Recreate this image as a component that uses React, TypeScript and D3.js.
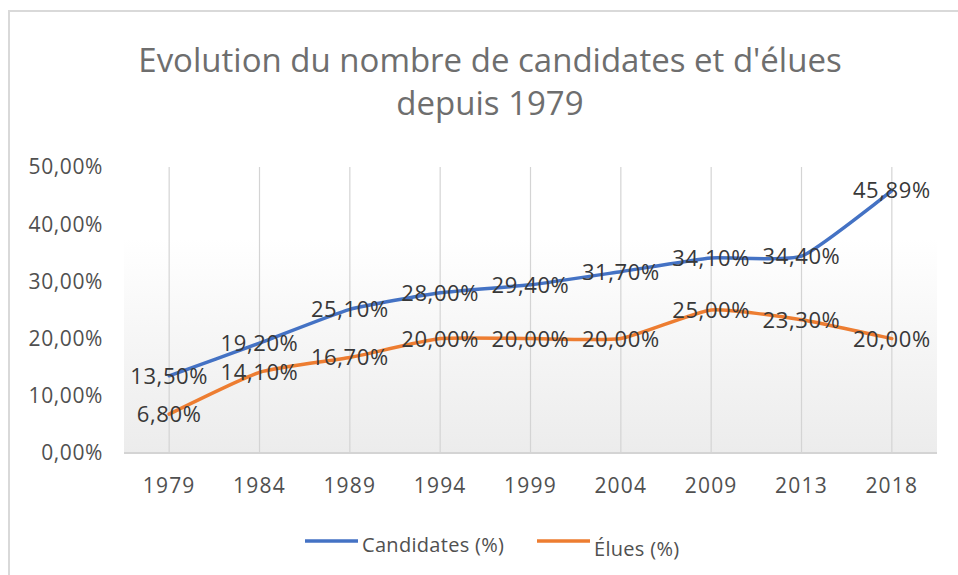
import { useEffect, useRef } from "react";
import * as d3 from "d3";

// Chart data
const years = ["1979", "1984", "1989", "1994", "1999", "2004", "2009", "2013", "2018"];
const candidates = [13.5, 19.2, 25.1, 28.0, 29.4, 31.7, 34.1, 34.4, 45.89];
const elues = [6.8, 14.1, 16.7, 20.0, 20.0, 20.0, 25.0, 23.3, 20.0];
const yTicks = [0, 10, 20, 30, 40, 50];
const titleLines = ["Evolution du nombre de candidates et d'élues", "depuis 1979"];
const seriesNames = ["Candidates (%)", "Élues (%)"];

const W = 958;
const H = 575;
const FONT = "Open Sans, sans-serif";
const BLUE = "#4472C4";
const ORANGE = "#ED7D31";

const fmt = (v: number) => v.toFixed(2).replace(".", ",") + "%";

export default function App() {
  const ref = useRef<SVGSVGElement | null>(null);

  useEffect(() => {
    const svg = d3.select(ref.current);
    svg.selectAll("*").remove();

    // Plot area bounds
    const left = 124;
    const right = 937;
    const top = 167;
    const bottom = 453;

    const x = d3.scaleBand().domain(years).range([left, right]);
    const y = d3.scaleLinear().domain([0, 50]).range([bottom, top]);
    const cx = (yr: string) => (x(yr) as number) + x.bandwidth() / 2;

    // Outer frame (runs off the right and bottom edge)
    svg
      .append("rect")
      .attr("x", 9)
      .attr("y", 11)
      .attr("width", W + 20)
      .attr("height", H + 20)
      .attr("fill", "#fff")
      .attr("stroke", "#d9d9d9")
      .attr("stroke-width", 2);

    // Gradient background of the plot area
    const defs = svg.append("defs");
    const grad = defs
      .append("linearGradient")
      .attr("id", "plotGrad")
      .attr("x1", 0)
      .attr("y1", 0)
      .attr("x2", 0)
      .attr("y2", 1);
    grad.append("stop").attr("offset", "0%").attr("stop-color", "#ffffff");
    grad.append("stop").attr("offset", "25%").attr("stop-color", "#ffffff");
    grad.append("stop").attr("offset", "100%").attr("stop-color", "#ececec");

    svg
      .append("rect")
      .attr("x", left)
      .attr("y", top)
      .attr("width", right - left)
      .attr("height", bottom - top)
      .attr("fill", "url(#plotGrad)");

    // Title
    svg
      .append("g")
      .selectAll("text")
      .data(titleLines)
      .join("text")
      .attr("x", 490)
      .attr("y", (d, i) => 72 + i * 43)
      .attr("text-anchor", "middle")
      .attr("font-family", FONT)
      .attr("font-size", 33)
      .attr("fill", "#6e6e6e")
      .text((d) => d);

    // Vertical gridlines at each category
    svg
      .append("g")
      .selectAll("line")
      .data(years)
      .join("line")
      .attr("x1", cx)
      .attr("x2", cx)
      .attr("y1", top)
      .attr("y2", bottom)
      .attr("stroke", "#d4d4d4")
      .attr("stroke-width", 1.2);

    // Baseline
    svg
      .append("line")
      .attr("x1", left)
      .attr("x2", right)
      .attr("y1", bottom)
      .attr("y2", bottom)
      .attr("stroke", "#d4d4d4")
      .attr("stroke-width", 2);

    // Y axis labels
    svg
      .append("g")
      .selectAll("text")
      .data(yTicks)
      .join("text")
      .attr("x", 103)
      .attr("y", (d) => y(d))
      .attr("dy", "0.35em")
      .attr("text-anchor", "end")
      .attr("font-family", FONT)
      .attr("font-size", 21)
      .attr("letter-spacing", 0.6)
      .attr("fill", "#505050")
      .text((d) => fmt(d));

    // X axis labels
    svg
      .append("g")
      .selectAll("text")
      .data(years)
      .join("text")
      .attr("x", cx)
      .attr("y", 486)
      .attr("dy", "0.35em")
      .attr("text-anchor", "middle")
      .attr("font-family", FONT)
      .attr("font-size", 21)
      .attr("letter-spacing", 1.2)
      .attr("fill", "#505050")
      .text((d) => d);

    // Lines (smoothed like the spreadsheet's line chart)
    const line = d3
      .line<number>()
      .x((d, i) => cx(years[i]))
      .y((d) => y(d))
      .curve(d3.curveCardinal.tension(0.5));

    const series = [
      { values: candidates, color: BLUE },
      { values: elues, color: ORANGE },
    ];

    series.forEach((s) => {
      svg
        .append("path")
        .datum(s.values)
        .attr("d", line)
        .attr("fill", "none")
        .attr("stroke", s.color)
        .attr("stroke-width", 3.5)
        .attr("stroke-linecap", "round");
    });

    // Data labels, centered on each point
    series.forEach((s) => {
      svg
        .append("g")
        .selectAll("text")
        .data(s.values)
        .join("text")
        .attr("x", (d, i) => cx(years[i]))
        .attr("y", (d) => y(d))
        .attr("dy", "0.36em")
        .attr("text-anchor", "middle")
        .attr("font-family", FONT)
        .attr("font-size", 22)
        .attr("letter-spacing", 0.6)
        .attr("fill", "#383838")
        .text((d) => fmt(d));
    });

    // Legend
    const legend = [
      { name: seriesNames[0], color: BLUE, x: 305, ty: 545 },
      { name: seriesNames[1], color: ORANGE, x: 537, ty: 549 },
    ];
    legend.forEach((l) => {
      svg
        .append("line")
        .attr("x1", l.x)
        .attr("x2", l.x + 53)
        .attr("y1", 541)
        .attr("y2", 541)
        .attr("stroke", l.color)
        .attr("stroke-width", 3.5);
      svg
        .append("text")
        .attr("x", l.x + 57)
        .attr("y", l.ty)
        .attr("dy", "0.35em")
        .attr("font-family", FONT)
        .attr("font-size", 20)
        .attr("letter-spacing", 0.3)
        .attr("fill", "#505050")
        .text(l.name);
    });
  }, []);

  return (
    <svg
      ref={ref}
      width={W}
      height={H}
      style={{ position: "absolute", left: 0, top: 0, background: "#fff" }}
    ></svg>
  );
}
